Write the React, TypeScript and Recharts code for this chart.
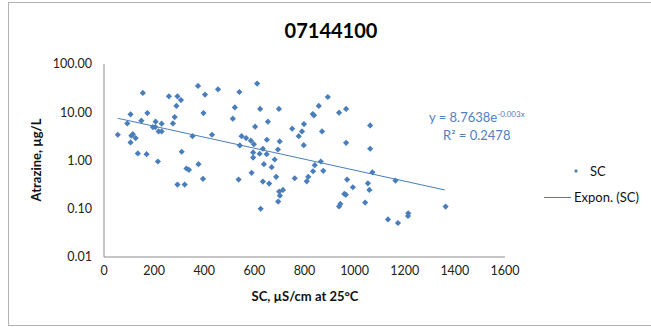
import { ScatterChart, Scatter, XAxis, YAxis } from 'recharts';

// SC (µS/cm) vs atrazine (µg/L)
const scValues = [
  155, 259, 293, 307, 375, 455, 540, 289, 403, 522, 106, 173, 397, 514, 282, 149, 93, 206, 275, 230,
  195, 205, 218, 230, 55, 109, 115, 126, 106, 353, 431, 135, 170, 310, 215, 377, 611, 623, 698, 893,
  857, 833, 838, 938, 966, 603, 654, 751, 798, 790, 777, 870, 1062, 549, 567, 586, 598, 542, 650, 701,
  797, 966, 1062, 634, 694, 595, 621, 649, 595, 681, 638, 865, 841, 329, 339, 395, 293, 322, 537, 669,
  834, 875, 589, 634, 659, 687, 761, 809, 815, 699, 714, 702, 695, 625, 970, 993, 959, 965, 943, 938,
  1053, 1059, 1042, 1071, 1163, 1133, 1173, 1214, 1213, 1363,
];
const atrazineValues = [
  25.1, 21.4, 21.4, 17.9, 35.1, 29.9, 26.3, 13.5, 23.2, 12.6, 9.04, 9.62, 9.62, 7.36, 7.94, 6.69, 5.88, 6.38, 5.88, 5.79,
  4.92, 4.92, 4.01, 4.01, 3.42, 3.26, 3.52, 2.91, 2.37, 3.2, 3.42, 1.4, 1.35, 1.52, 0.953, 0.838, 39.3, 11.7, 11.7, 20.7,
  13.5, 9.18, 8.62, 9.81, 11.7, 5.02, 6.38, 4.56, 5.69, 4.01, 3.2, 4.01, 5.34, 3.2, 2.91, 2.57, 2.18, 2.05, 2.69, 2.48,
  2.08, 2.33, 1.75, 1.75, 1.69, 1.47, 1.38, 1.35, 1.15, 1.05, 0.838, 0.953, 0.799, 0.682, 0.641, 0.417, 0.317, 0.317, 0.403, 0.726,
  0.599, 0.611, 0.555, 0.366, 0.333, 0.458, 0.429, 0.371, 0.458, 0.227, 0.246, 0.187, 0.141, 0.1, 0.403, 0.279, 0.203, 0.196, 0.126, 0.112,
  0.337, 0.246, 0.134, 0.571, 0.384, 0.06, 0.0507, 0.0802, 0.0708, 0.111,
];

// exponential trendline end points
const trendX = [55, 1360];
const trendY = [7.5, 0.245];

const xTicks = [0, 200, 400, 600, 800, 1000, 1200, 1400, 1600];
const xMinorTicks = Array.from({ length: 41 }, (_, i) => i * 40);
const yTicks = [0.01, 0.1, 1, 10, 100];
const yMinorTicks = [0.01, 0.1, 1, 10].flatMap((d) => [2, 3, 4, 5, 6, 7, 8, 9].map((m) => +(d * m).toPrecision(2)));

const points = scValues.map((x, i) => ({ x, y: atrazineValues[i] }));
const trend = trendX.map((x, i) => ({ x, y: trendY[i] }));

const BLUE = '#4a7ebb';
const AXIS = '#8c8c8c';
const FONT = 'Lato, "Open Sans", sans-serif';
const blank = () => '';

const Diamond = (props: any) => {
  const { cx, cy } = props;
  const r = 3.1;
  return <path d={`M${cx},${cy - r}L${cx + r},${cy}L${cx},${cy + r}L${cx - r},${cy}Z`} fill={BLUE} />;
};

export default function App() {
  return (
    <div style={{ position: 'absolute', left: 0, top: 0, width: 651, height: 327, background: '#fff', fontFamily: FONT, overflow: 'hidden' }}>
      <div style={{ position: 'absolute', left: 8, top: 2, width: 660, height: 322, border: '1px solid #b3b3b3' }} />
      <div style={{ position: 'absolute', left: 0, top: 18, width: 662, textAlign: 'center', fontSize: 20, fontWeight: 700, color: '#000' }}>
        07144100
      </div>
      <ScatterChart width={651} height={327} margin={{ top: 64, right: 146, bottom: 40, left: 0 }} style={{ position: 'absolute', left: 0, top: 0 }}>
        <XAxis xAxisId="x" dataKey="x" type="number" domain={[0, 1600]} ticks={xTicks} interval={0}
          tickLine={false} tickSize={0} tickMargin={9} height={30}
          axisLine={{ stroke: AXIS }} tick={{ fontSize: 12.5, fill: '#222', fontFamily: FONT }} />
        <XAxis xAxisId="xMinor" type="number" domain={[0, 1600]} ticks={xMinorTicks} interval={0} mirror height={0}
          axisLine={false} tickSize={2} tickLine={{ stroke: AXIS }} tickFormatter={blank} />
        <XAxis xAxisId="xMajor" type="number" domain={[0, 1600]} ticks={xTicks} interval={0} mirror height={0}
          axisLine={false} tickSize={4} tickLine={{ stroke: AXIS }} tickFormatter={blank} />
        <YAxis yAxisId="y" dataKey="y" type="number" scale="log" domain={[0.01, 100]} allowDataOverflow ticks={yTicks} interval={0}
          width={104} tickLine={false} tickSize={0} tickMargin={12}
          axisLine={{ stroke: AXIS }} tickFormatter={(v: number) => v.toFixed(2)}
          tick={{ fontSize: 12.5, fill: '#222', fontFamily: FONT }} />
        <YAxis yAxisId="yMinor" type="number" scale="log" domain={[0.01, 100]} allowDataOverflow ticks={yMinorTicks} interval={0}
          mirror width={0} axisLine={false} tickSize={3} tickLine={{ stroke: AXIS }} tickFormatter={blank} />
        <YAxis yAxisId="yMajor" type="number" scale="log" domain={[0.01, 100]} allowDataOverflow ticks={yTicks} interval={0}
          mirror width={0} axisLine={false} tickSize={5} tickLine={{ stroke: AXIS }} tickFormatter={blank} />
        <Scatter xAxisId="x" yAxisId="y" data={trend} line={{ stroke: BLUE, strokeWidth: 1 }} shape={() => <g />} isAnimationActive={false} />
        <Scatter xAxisId="x" yAxisId="y" data={points} shape={Diamond} isAnimationActive={false} />
      </ScatterChart>
      <div style={{ position: 'absolute', left: 36, top: 160, transform: 'translate(-50%, -50%) rotate(-90deg)', whiteSpace: 'nowrap', fontSize: 13, fontWeight: 700, color: '#111' }}>
        Atrazine, µg/L
      </div>
      <div style={{ position: 'absolute', left: 105, top: 288, width: 400, textAlign: 'center', fontSize: 13, fontWeight: 700, color: '#111' }}>
        SC, µS/cm at 25°C
      </div>
      <div style={{ position: 'absolute', left: 429, top: 109, fontSize: 13, color: '#4f81bd', whiteSpace: 'nowrap' }}>
        y = 8.7638e<sup style={{ fontSize: 8 }}>-0.003x</sup>
      </div>
      <div style={{ position: 'absolute', left: 443, top: 127, fontSize: 13, color: '#4f81bd', whiteSpace: 'nowrap' }}>
        R² = 0.2478
      </div>
      {/* legend */}
      <svg style={{ position: 'absolute', left: 540, top: 160 }} width={45} height={45}>
        <path d="M36,9L38,11L36,13L34,11Z" fill={BLUE} />
        <line x1={4} y1={37.5} x2={31} y2={37.5} stroke={BLUE} strokeWidth={1} />
      </svg>
      <div style={{ position: 'absolute', left: 590, top: 163, fontSize: 13, color: '#111' }}>SC</div>
      <div style={{ position: 'absolute', left: 574, top: 189, fontSize: 13, color: '#111', whiteSpace: 'nowrap' }}>Expon. (SC)</div>
    </div>
  );
}
